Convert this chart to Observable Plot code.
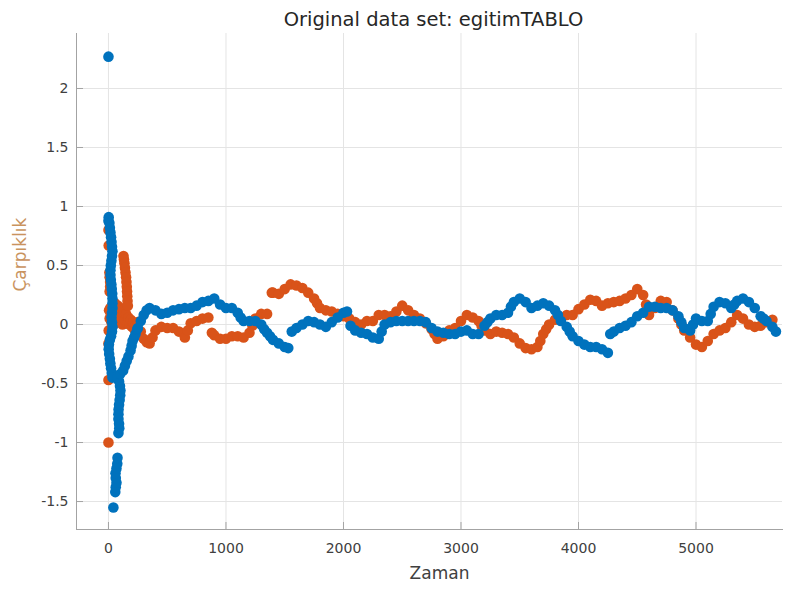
<!DOCTYPE html>
<html>
<head>
<meta charset="utf-8">
<script src="https://cdn.jsdelivr.net/npm/d3@7"></script>
<script src="https://cdn.jsdelivr.net/npm/@observablehq/plot@0.6"></script>
<style>
  html, body { margin: 0; padding: 0; background: #fff; }
</style>
</head>
<body>
<div id="chart"></div>
<script>
const titleText = "Original data set: egitimTABLO";
const xLabel = "Zaman";
const yLabel = "Çarpıklık";

const xTicks = [0, 1000, 2000, 3000, 4000, 5000];
const xTickLabels = ["0", "1000", "2000", "3000", "4000", "5000"];
const yTicks = [-1.5, -1, -0.5, 0, 0.5, 1, 1.5, 2];
const yTickLabels = ["-1.5", "-1", "-0.5", "0", "0.5", "1", "1.5", "2"];

// Series 2 (blue), [time, value]
const blueEarly = [
  [0,2.27],[2,0.91],[0,0.88],[8,0.86],[12,0.82],[17,0.78],[22,0.74],[26,0.7],[30,0.66],[34,0.62],
  [30,0.58],[25,0.54],[20,0.5],[17,0.46],[17,0.42],[20,0.38],[25,0.34],[28,0.3],[32,0.26],[34,0.22],
  [34,0.18],[34,0.14],[30,0.1],[26,0.06],[30,0.02],[34,-0.02],[30,-0.06],[22,-0.1],[12,-0.13],[4,-0.17],
  [2,-0.21],[6,-0.25],[12,-0.29],[16,-0.33],[22,-0.37],[28,-0.41],[34,-0.45],
  [42,-1.55],[58,-1.42],[62,-1.38],[68,-1.34],[62,-1.3],[60,-1.26],[68,-1.22],[75,-1.18],[77,-1.13],
  [85,-0.92],[92,-0.88],[90,-0.84],[85,-0.8],[85,-0.76],[86,-0.72],[90,-0.68],[95,-0.64],[100,-0.6],[102,-0.56],
  [98,-0.52],[90,-0.48],[77,-0.45],
  [100,-0.42],[125,-0.39],[140,-0.35],[155,-0.31],[170,-0.27],[188,-0.22],[197,-0.18],[205,-0.14],[218,-0.11],[230,-0.08],[245,-0.04]
];
const blueMain = [
  [250,-0.03],[275,0.03],[300,0.08],[325,0.12],[350,0.14],[400,0.12],[450,0.09],[500,0.10],[550,0.12],[600,0.13],
  [650,0.14],[700,0.14],[750,0.16],[800,0.19],[850,0.20],[900,0.22],[950,0.17],[1000,0.14],[1050,0.14],[1100,0.10],
  [1125,0.06],[1150,0.03],[1200,0.03],[1250,0.03],[1300,0],[1325,-0.04],[1350,-0.07],[1375,-0.10],[1400,-0.13],[1450,-0.16],
  [1500,-0.19],[1530,-0.20],[1560,-0.06],[1600,-0.03],[1650,0],[1700,0.03],[1750,0.02],[1800,0],[1850,-0.02],[1900,0.02],
  [1950,0.06],[2000,0.10],[2030,0.11],[2060,-0.01],[2100,-0.05],[2150,-0.07],[2200,-0.08],[2250,-0.11],[2300,-0.12],[2325,-0.06],
  [2350,0],[2400,0.02],[2450,0.03],[2500,0.03],[2550,0.03],[2600,0.03],[2650,0.03],[2700,0.02],[2750,-0.03],[2800,-0.06],
  [2850,-0.07],[2900,-0.08],[2950,-0.08],[3000,-0.06],[3050,-0.05],[3100,-0.08],[3150,-0.08],[3200,-0.01],[3225,0.02],[3250,0.05],
  [3300,0.08],[3350,0.08],[3400,0.10],[3425,0.15],[3450,0.19],[3500,0.22],[3550,0.19],[3600,0.14],[3650,0.16],[3700,0.18],
  [3750,0.16],[3800,0.12],[3825,0.08],[3850,0.03],[3900,-0.02],[3925,-0.06],[3950,-0.10],[4000,-0.14],[4050,-0.17],[4100,-0.19],
  [4150,-0.19],[4200,-0.21],[4250,-0.24],[4270,-0.08],[4300,-0.06],[4350,-0.03],[4400,-0.01],[4450,0.02],[4500,0.07],[4550,0.10],
  [4600,0.15],[4650,0.15],[4700,0.14],[4750,0.14],[4800,0.12],[4850,0.07],[4875,0.02],[4900,-0.03],[4950,-0.05],[4975,0.0],
  [5000,0.05],[5050,0.03],[5100,0.03],[5125,0.09],[5150,0.15],[5200,0.19],[5250,0.18],[5300,0.14],[5325,0.17],[5350,0.20],
  [5400,0.22],[5450,0.19],[5500,0.14],[5550,0.07],[5575,0.05],[5600,0.03],[5650,-0.02],[5680,-0.06]
];

// Series 1 (orange), [time, value]
const orangeEarly = [
  [0,0.8],[2,0.67],[8,0.44],[10,0.40],[14,0.36],[14,0.32],[10,0.28],[0,-1.0],[0,-0.47],[0,-0.16],[2,-0.05],
  [5,0.12],[10,0.05],[15,0.14],[20,0.08],[25,0.02],[30,0.1],[35,0.15],[40,0.06],[45,0.0],[50,0.12],
  [55,0.18],[60,0.08],[65,0.03],[70,0.13],[75,0.06],[80,0.16],[85,0.1],[90,0.02],[95,0.12],[100,0.07],
  [105,0.14],[110,0.04],[115,0.1],[120,0.0],[125,0.08],[130,0.12],[140,0.04],[150,0.09],[160,0.01],[170,0.06],
  [180,0.0],[190,0.04],[200,-0.02],[210,0.02],[220,-0.04],[230,-0.01],[240,-0.06],[250,0.02],[275,-0.06],
  [128,0.58],[132,0.55],[136,0.52],[140,0.48],[145,0.44],[150,0.40],[153,0.36],[156,0.32],[158,0.28],[160,0.24],
  [162,0.2],[165,0.16]
];
const orangeMain = [
  [300,-0.12],[325,-0.15],[350,-0.16],[375,-0.11],[400,-0.05],[450,-0.02],[500,-0.03],[550,-0.03],[600,-0.06],[650,-0.11],
  [675,-0.05],[700,0.01],[750,0.03],[800,0.05],[850,0.06],[880,-0.07],[900,-0.09],[950,-0.12],[1000,-0.12],[1050,-0.10],
  [1100,-0.10],[1150,-0.11],[1200,-0.07],[1225,-0.01],[1250,0.05],[1300,0.09],[1350,0.09],[1390,0.27],[1400,0.27],[1450,0.26],
  [1500,0.30],[1550,0.34],[1600,0.33],[1650,0.31],[1700,0.27],[1750,0.22],[1775,0.18],[1800,0.14],[1850,0.12],[1900,0.11],
  [1950,0.09],[2000,0.07],[2050,0.05],[2100,0.02],[2150,0],[2200,0.03],[2250,0.03],[2300,0.08],[2350,0.08],[2400,0.07],
  [2450,0.11],[2500,0.16],[2550,0.12],[2600,0.08],[2650,0.05],[2700,0.01],[2750,-0.04],[2775,-0.08],[2800,-0.12],[2850,-0.10],
  [2900,-0.05],[2950,-0.03],[3000,0.03],[3050,0.08],[3100,0.06],[3150,0.03],[3175,-0.01],[3200,-0.05],[3250,-0.08],[3300,-0.06],
  [3350,-0.07],[3400,-0.08],[3450,-0.11],[3500,-0.16],[3550,-0.20],[3600,-0.21],[3650,-0.19],[3675,-0.14],[3700,-0.08],[3725,-0.04],
  [3750,0],[3800,0.04],[3850,0.06],[3900,0.08],[3950,0.08],[4000,0.13],[4050,0.17],[4100,0.21],[4150,0.20],[4200,0.16],
  [4250,0.18],[4300,0.19],[4350,0.20],[4400,0.22],[4450,0.25],[4500,0.30],[4550,0.25],[4575,0.17],[4600,0.08],[4650,0.14],
  [4700,0.20],[4750,0.19],[4800,0.12],[4850,0.05],[4875,0.0],[4900,-0.05],[4950,-0.11],[5000,-0.17],[5050,-0.19],[5100,-0.14],
  [5150,-0.08],[5200,-0.05],[5250,-0.03],[5300,0.02],[5350,0.08],[5400,0.05],[5450,0],[5500,-0.02],[5550,-0.01],[5600,0.02],
  [5650,0.04]
];

const toRows = (arr) => arr.map(([t, v]) => ({t, v}));
const orangeData = toRows(orangeEarly.concat(orangeMain));
const blueData = toRows(blueEarly.concat(blueMain));

const axisColor = "#a3a3a3";
const textColor = "#404040";
const gridColor = "#e4e4e4";
const font = "'DejaVu Sans', 'Liberation Sans', sans-serif";

const chart = Plot.plot({
  width: 794,
  height: 590,
  marginLeft: 76,
  marginRight: 12,
  marginTop: 33,
  marginBottom: 61,
  style: {fontFamily: font, fontSize: "14px", background: "#fff", color: textColor},
  x: {domain: [-272, 5736]},
  y: {domain: [-1.737, 2.466]},
  marks: [
    Plot.gridX(xTicks, {stroke: gridColor, strokeOpacity: 1}),
    Plot.gridY(yTicks, {stroke: gridColor, strokeOpacity: 1}),
    Plot.dot(orangeData, {x: "t", y: "v", r: 5.3, fill: "#D95319", stroke: null}),
    Plot.dot(blueData, {x: "t", y: "v", r: 5.3, fill: "#0072BD", stroke: null}),
    Plot.frame({anchor: "left", stroke: axisColor}),
    Plot.frame({anchor: "bottom", stroke: axisColor}),
    // inward tick marks
    Plot.axisX(xTicks, {tickSize: 7, dy: -7, text: null, stroke: axisColor, label: null}),
    Plot.axisY(yTicks, {tickSize: 7, dx: 7, text: null, stroke: axisColor, label: null}),
    // tick labels
    Plot.axisX(xTicks, {tickSize: 0, tickPadding: 14, fill: textColor, label: null,
      tickFormat: (d) => xTickLabels[xTicks.indexOf(d)]}),
    Plot.axisY(yTicks, {tickSize: 0, tickPadding: 8, fill: textColor, label: null,
      tickFormat: (d) => yTickLabels[yTicks.indexOf(d)]}),
    Plot.text([titleText], {frameAnchor: "top", dx: 4, dy: -8, lineAnchor: "bottom", fontSize: 19.5, fill: "#262626"}),
    Plot.text([xLabel], {frameAnchor: "bottom", dx: 10, dy: 37, lineAnchor: "top", fontSize: 17, fill: textColor}),
    Plot.text([yLabel], {frameAnchor: "left", dx: -56, dy: 10, rotate: -90, fontSize: 17, fill: "#c9935e"})
  ]
});
document.getElementById("chart").appendChild(chart);
</script>
</body>
</html>
